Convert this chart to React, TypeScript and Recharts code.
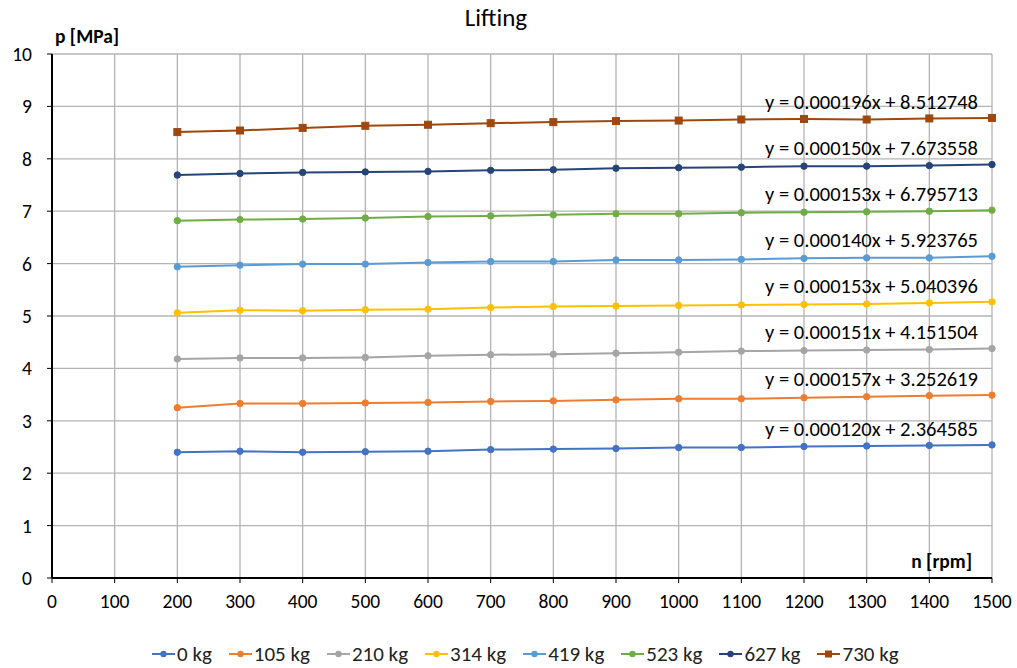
import React from 'react';
import { LineChart, Line, XAxis, YAxis, CartesianGrid, Legend, Label } from 'recharts';

const rpm = [200, 300, 400, 500, 600, 700, 800, 900, 1000, 1100, 1200, 1300, 1400, 1500];

const kg0 = [2.40, 2.42, 2.40, 2.41, 2.42, 2.45, 2.46, 2.47, 2.49, 2.49, 2.51, 2.52, 2.53, 2.54];
const kg105 = [3.25, 3.33, 3.33, 3.34, 3.35, 3.37, 3.38, 3.40, 3.42, 3.42, 3.44, 3.46, 3.48, 3.49];
const kg210 = [4.18, 4.20, 4.20, 4.21, 4.24, 4.26, 4.27, 4.29, 4.31, 4.33, 4.34, 4.35, 4.36, 4.38];
const kg314 = [5.06, 5.11, 5.10, 5.12, 5.13, 5.16, 5.18, 5.19, 5.20, 5.21, 5.22, 5.23, 5.25, 5.27];
const kg419 = [5.94, 5.97, 5.99, 5.99, 6.02, 6.04, 6.04, 6.07, 6.07, 6.08, 6.10, 6.11, 6.11, 6.14];
const kg523 = [6.82, 6.84, 6.85, 6.87, 6.90, 6.91, 6.93, 6.95, 6.95, 6.97, 6.98, 6.99, 7.00, 7.02];
const kg627 = [7.69, 7.72, 7.74, 7.75, 7.76, 7.78, 7.79, 7.82, 7.83, 7.84, 7.86, 7.86, 7.87, 7.89];
const kg730 = [8.51, 8.54, 8.59, 8.63, 8.65, 8.68, 8.70, 8.72, 8.73, 8.75, 8.76, 8.75, 8.77, 8.78];

const seriesNames = ['0 kg', '105 kg', '210 kg', '314 kg', '419 kg', '523 kg', '627 kg', '730 kg'];
const seriesValues = [kg0, kg105, kg210, kg314, kg419, kg523, kg627, kg730];
const equations = [
  'y = 0.000120x + 2.364585',
  'y = 0.000157x + 3.252619',
  'y = 0.000151x + 4.151504',
  'y = 0.000153x + 5.040396',
  'y = 0.000140x + 5.923765',
  'y = 0.000153x + 6.795713',
  'y = 0.000150x + 7.673558',
  'y = 0.000196x + 8.512748',
];
const colors = ['#4472C4', '#ED7D31', '#A5A5A5', '#FFC000', '#5B9BD5', '#70AD47', '#264478', '#9E480E'];
const xTicks = [0, 100, 200, 300, 400, 500, 600, 700, 800, 900, 1000, 1100, 1200, 1300, 1400, 1500];
const yTicks = [0, 1, 2, 3, 4, 5, 6, 7, 8, 9, 10];

const data = rpm.map((n, i) => {
  const row: Record<string, number> = { n };
  seriesNames.forEach((name, s) => {
    row[name] = seriesValues[s][i];
  });
  return row;
});

const FONT = 'Carlito, Calibri, "Liberation Sans", Arial, sans-serif';

const makeDot = (color: string, square: boolean) => (props: any) => {
  const { cx, cy, index } = props;
  if (cx == null || cy == null) return <g key={`d-${index}`} />;
  if (square) {
    return <rect key={`d-${index}`} x={cx - 3.5} y={cy - 3.5} width={7} height={7} fill={color} stroke={color} />;
  }
  return <circle key={`d-${index}`} cx={cx} cy={cy} r={3.2} fill={color} stroke={color} />;
};

const makeEqLabel = (eq: string) => (props: any) => {
  const { x, y, index } = props;
  if (index !== rpm.length - 1) return null;
  return (
    <text key={`eq-${index}`} x={x - 14} y={y - 14} textAnchor="end" dominantBaseline="middle"
      fontFamily={FONT} fontSize={20.5} fill="#000">
      {eq}
    </text>
  );
};

const LegendContent = () => (
  <div style={{ display: 'flex', justifyContent: 'flex-start', paddingLeft: 152, fontFamily: FONT, fontSize: 21, color: '#222', lineHeight: '24px' }}>
    {seriesNames.map((name, s) => (
      <div key={name} style={{ display: 'flex', alignItems: 'center', marginRight: 17 }}>
        <svg width={23} height={12} style={{ marginRight: 2 }}>
          <line x1={0} y1={6} x2={23} y2={6} stroke={colors[s]} strokeWidth={2} />
          {s === 7 ? (
            <rect x={8} y={2.5} width={7} height={7} fill={colors[s]} />
          ) : (
            <circle cx={11.5} cy={6} r={3.2} fill={colors[s]} />
          )}
        </svg>
        <span>{name}</span>
      </div>
    ))}
  </div>
);

export default function App() {
  return (
    <div style={{ position: 'absolute', left: 0, top: 0, width: 1017, height: 668, background: '#fff' }}>
      <div style={{ position: 'absolute', left: 0, top: 4, width: 992, textAlign: 'center', fontFamily: FONT, fontSize: 25, lineHeight: '28px', color: '#000' }}>
        Lifting
      </div>
      <LineChart width={1017} height={668} data={data} margin={{ top: 54, right: 25, left: 0, bottom: 0 }}>
        <CartesianGrid stroke="#b4b4b4" strokeWidth={1.3} />
        <XAxis dataKey="n" type="number" domain={[0, 1500]} ticks={xTicks} interval={0}
          axisLine={{ stroke: '#000', strokeWidth: 2 }} tickLine={{ stroke: '#000' }} tickSize={5} tickMargin={11}
          tick={{ fontFamily: FONT, fontSize: 19.5, fill: '#000' }} height={64}>
          <Label content={(p: any) => {
            const vb = p.viewBox || {};
            return (
              <text x={vb.x + vb.width - 20} y={vb.y - 10} textAnchor="end" fontFamily={FONT}
                fontWeight="bold" fontSize={19.5} fill="#000">n [rpm]</text>
            );
          }} />
        </XAxis>
        <YAxis type="number" domain={[0, 10]} ticks={yTicks} interval={0} width={52}
          axisLine={{ stroke: '#000', strokeWidth: 2 }} tickLine={{ stroke: '#000' }} tickSize={5} tickMargin={15}
          tick={{ fontFamily: FONT, fontSize: 19.5, fill: '#000' }}>
          <Label content={(p: any) => {
            const vb = p.viewBox || {};
            return (
              <text x={vb.x + vb.width + 3} y={vb.y - 11} textAnchor="start" fontFamily={FONT}
                fontWeight="bold" fontSize={19.5} fill="#000">p [MPa]</text>
            );
          }} />
        </YAxis>
        <Legend verticalAlign="bottom" height={26} content={<LegendContent />} />
        {seriesNames.map((name, s) => (
          <Line key={name} dataKey={name} stroke={colors[s]} strokeWidth={2} isAnimationActive={false}
            dot={makeDot(colors[s], s === 7)} activeDot={false} label={makeEqLabel(equations[s])} />
        ))}
      </LineChart>
    </div>
  );
}
